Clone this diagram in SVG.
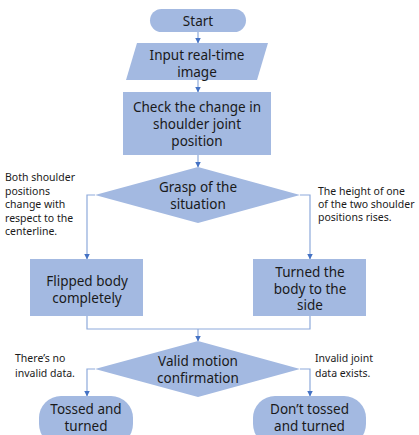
<svg xmlns="http://www.w3.org/2000/svg" width="419" height="435" viewBox="0 0 419 435">
<defs>
<style>
.n{fill:#a3b9e1;stroke:none}
.t{font-family:"Malgun Gothic","Noto Sans","Liberation Sans",sans-serif;font-size:13.5px;fill:#1a1a1a;text-anchor:middle}
.s{font-family:"Malgun Gothic","Noto Sans","Liberation Sans",sans-serif;font-size:10.5px;fill:#1a1a1a}
.c{fill:none;stroke:#8eaadb;stroke-width:1.2}
</style>
<marker id="a" viewBox="0 0 6 6" refX="5.5" refY="3" markerWidth="6" markerHeight="6" markerUnits="userSpaceOnUse" orient="auto">
<path d="M0,0 L6,3 L0,6 z" fill="#4472c4"/>
</marker>
</defs>
<rect width="419" height="435" fill="#ffffff"/>
<g id="connectors">
<path class="c" d="M198,32 V43" marker-end="url(#a)"/>
<path class="c" d="M198,80 V92" marker-end="url(#a)"/>
<path class="c" d="M198,155 V167" marker-end="url(#a)"/>
<path class="c" d="M95,195 H87 V259" marker-end="url(#a)"/>
<path class="c" d="M300,195 H310 V259" marker-end="url(#a)"/>
<path class="c" d="M87,316 V329 H310 V316"/>
<path class="c" d="M198,329 V341" marker-end="url(#a)"/>
<path class="c" d="M95,369 H87 V396" marker-end="url(#a)"/>
<path class="c" d="M300,369 H310 V396" marker-end="url(#a)"/>
</g>
<g id="start">
<rect class="n" x="150" y="9" width="96" height="23" rx="11.5"/>
<text class="t" x="198" y="25.5">Start</text>
</g>
<g id="input">
<polygon class="n" points="137,43 268,43 257,80 126,80"/>
<text class="t" x="197" y="60">Input real-time</text>
<text class="t" x="197" y="77">image</text>
</g>
<g id="check">
<rect class="n" x="123" y="92" width="148" height="63"/>
<text class="t" x="197" y="112">Check the change in</text>
<text class="t" x="197" y="129">shoulder joint</text>
<text class="t" x="197" y="146">position</text>
</g>
<g id="grasp">
<polygon class="n" points="198,167 300,195 198,223 95,195"/>
<text class="t" x="198" y="192">Grasp of the</text>
<text class="t" x="198" y="209">situation</text>
</g>
<g id="label-left1">
<text class="s" x="5" y="181">Both shoulder</text>
<text class="s" x="5" y="194.5">positions</text>
<text class="s" x="5" y="208">change with</text>
<text class="s" x="5" y="221.5">respect to the</text>
<text class="s" x="5" y="235">centerline.</text>
</g>
<g id="label-right1">
<text class="s" x="318" y="195">The height of one</text>
<text class="s" x="318" y="208">of the two shoulder</text>
<text class="s" x="318" y="221">positions rises.</text>
</g>
<g id="flipped">
<rect class="n" x="30" y="259" width="113" height="57"/>
<text class="t" x="87" y="286">Flipped body</text>
<text class="t" x="87" y="302.5">completely</text>
</g>
<g id="turned">
<rect class="n" x="253" y="259" width="113" height="57"/>
<text class="t" x="310" y="277">Turned the</text>
<text class="t" x="310" y="293.5">body to the</text>
<text class="t" x="310" y="310">side</text>
</g>
<g id="valid">
<polygon class="n" points="198,341 300,369 198,397 95,369"/>
<text class="t" x="198" y="366">Valid motion</text>
<text class="t" x="198" y="383">confirmation</text>
</g>
<g id="label-left2">
<text class="s" x="15" y="362">There’s no</text>
<text class="s" x="15" y="377">invalid data.</text>
</g>
<g id="label-right2">
<text class="s" x="315" y="362">Invalid joint</text>
<text class="s" x="315" y="377">data exists.</text>
</g>
<g id="tossed">
<rect class="n" x="39" y="396" width="94" height="50" rx="22"/>
<text class="t" x="86" y="414">Tossed and</text>
<text class="t" x="86" y="431">turned</text>
</g>
<g id="donttossed">
<rect class="n" x="253" y="396" width="113" height="50" rx="22"/>
<text class="t" x="309.5" y="414">Don’t tossed</text>
<text class="t" x="309.5" y="431">and turned</text>
</g>
</svg>
